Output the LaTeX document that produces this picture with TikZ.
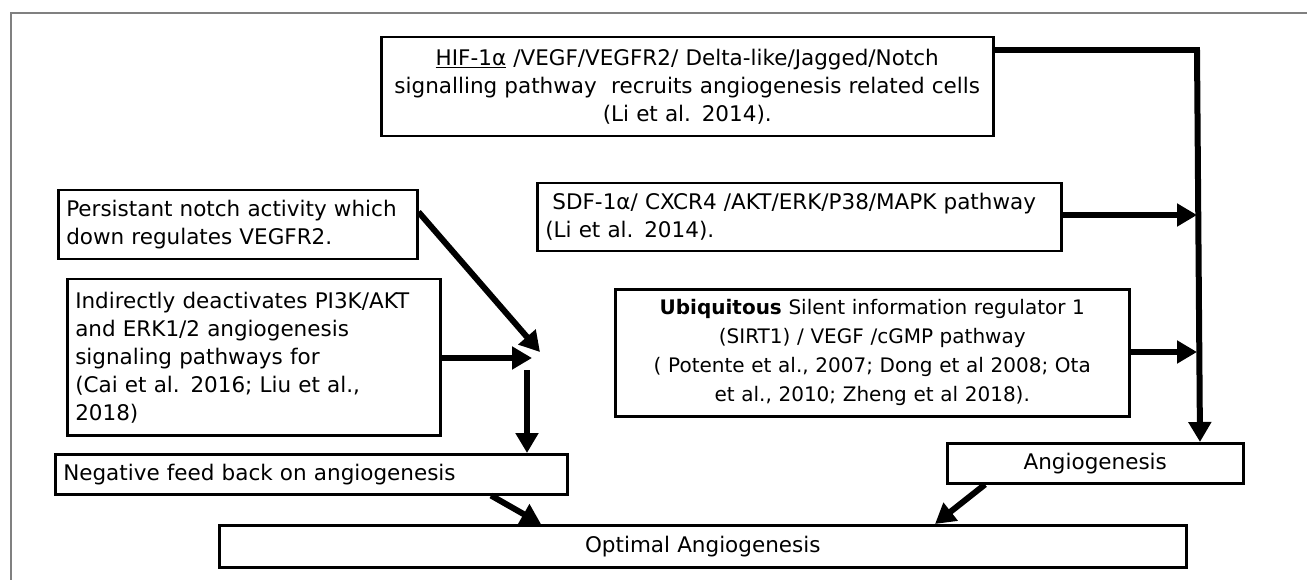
\documentclass[tikz,border=0pt]{standalone}
\usepackage{fontspec}
\setmainfont{DejaVu Sans}
\usetikzlibrary{arrows.meta}
\begin{document}
\begin{tikzpicture}[x=1pt,y=-1pt,
  box/.style={draw, line width=2.5pt, inner xsep=8pt, inner ysep=0pt, anchor=north west,
    font=\fontsize{21.5}{28}\selectfont},
  conn/.style={line width=6pt, -{Triangle[length=20pt,width=22pt]}},
  frameline/.style={draw=gray, line width=1.5pt}]
\useasboundingbox (0,0) rectangle (1307,580);
\draw[frameline] (11,580) -- (11,13) -- (1307,13);
% right side
\node[box, minimum width=612pt, minimum height=99pt, text width=596pt, align=center] (hif) at (380,36)
  {\underline{HIF-1α} /VEGF/VEGFR2/ Delta-like/Jagged/Notch\\signalling pathway\ \ recruits angiogenesis related cells\\(Li et al. 2014).};
\node[box, minimum width=524pt, minimum height=68pt, text width=508pt, align=left] (sdf) at (536,182)
  {\ SDF-1α/ CXCR4 /AKT/ERK/P38/MAPK pathway\\(Li et al. 2014).};
\node[box, minimum width=514pt, minimum height=127pt, text width=498pt, align=center,
  font=\fontsize{20}{29}\selectfont] (ubiq) at (614,288)
  {\textbf{Ubiquitous} Silent information regulator 1\\(SIRT1) / VEGF /cGMP pathway\\( Potente et al., 2007; Dong et al 2008; Ota\\et al., 2010; Zheng et al 2018).};
\node[box, minimum width=296pt, minimum height=40pt, text width=280pt, align=center] (angio) at (946,442)
  {Angiogenesis};
% left side
\node[box, minimum width=359pt, minimum height=69pt, text width=343pt, align=left] (persist) at (57,189)
  {Persistant notch activity which\\down regulates VEGFR2.};
\node[box, minimum width=373pt, minimum height=156pt, text width=357pt, align=left] (indir) at (66,278)
  {Indirectly deactivates PI3K/AKT\\and ERK1/2 angiogenesis\\signaling pathways for\\(Cai et al. 2016; Liu et al.,\\2018)};
\node[box, minimum width=512pt, minimum height=40pt, text width=496pt, align=left] (neg) at (54,453)
  {Negative feed back on angiogenesis};
\node[box, minimum width=967pt, minimum height=42pt, text width=951pt, align=center] (opt) at (218,524)
  {Optimal Angiogenesis};
% connectors right
\coordinate (corner) at (1200,50);
\coordinate (jsdf) at (1197,215);
\coordinate (jubiq) at (1197,352);
\draw[line width=6pt] ([yshift=-14pt]hif.north east) -- (corner);
\draw[conn] ([xshift=-3pt]corner) -- (corner |- angio.north);
\draw[conn] (sdf.east |- jsdf) -- (jsdf);
\draw[conn] (ubiq.east |- jubiq) -- (jubiq);
% connectors left
\coordinate (jd) at (540,352);
\coordinate (jh) at (532,358);
\coordinate (jv) at (527,370);
\draw[conn] ([yshift=-23pt]persist.north east) -- (jd);
\draw[conn] (indir.east |- jh) -- (jh);
\draw[conn] (jv) -- (jv |- neg.north);
\draw[conn] ([xshift=437pt]neg.south west) -- ([xshift=323pt]opt.north west);
\draw[conn] ([xshift=39pt]angio.south west) -- ([xshift=717pt]opt.north west);
\end{tikzpicture}
\end{document}
